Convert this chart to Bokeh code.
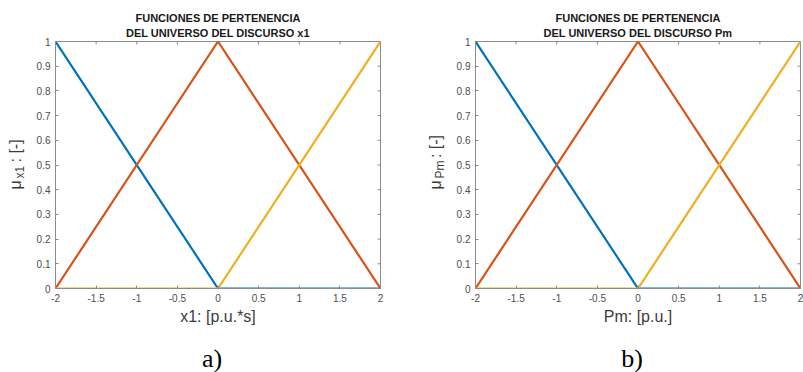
from math import pi
from bokeh.plotting import figure
from bokeh.layouts import row
from bokeh.models import Range1d, FixedTicker, LinearAxis, Label, Title
from bokeh.embed import file_html
from bokeh.resources import INLINE

# ---- data ----
x_points = [-2, 0, 2]
mf_negative = [1, 0, 0]
mf_zero = [0, 1, 0]
mf_positive = [0, 0, 1]
series = [mf_negative, mf_zero, mf_positive]
series_colors = ["#0072BD", "#D95319", "#EDB120"]

x_ticks = [-2, -1.5, -1, -0.5, 0, 0.5, 1, 1.5, 2]
x_tick_labels = ["-2", "-1.5", "-1", "-0.5", "0", "0.5", "1", "1.5", "2"]
y_ticks = [0, 0.1, 0.2, 0.3, 0.4, 0.5, 0.6, 0.7, 0.8, 0.9, 1]
y_tick_labels = ["0", "0.1", "0.2", "0.3", "0.4", "0.5", "0.6", "0.7", "0.8", "0.9", "1"]

NB = "\u00a0"
title_line1 = "FUNCIONES DE PERTENENCIA"
title_line2 = ["DEL UNIVERSO DEL DISCURSO x1", "DEL UNIVERSO DEL DISCURSO Pm"]
x_axis_labels = ["x1: [p.u.*s]", "Pm: [p.u.]"]
y_label_main = ["\u03bc" + NB * 4 + ":" + NB + "[-]", "\u03bc" + NB * 5 + ":" + NB + "[-]"]
y_label_subs = ["x1", "Pm"]
panel_tags = ["a)", "b)"]

FONT = "Liberation Sans"
AX_COL = "#8c8c8c"
TXT_COL = "#4d4d4d"
LBL_COL = "#3c3c3c"

H = 372
FRAME_W = 325
FRAME_H = 247
TOP = 41
LEFT = 55


def make_panel(i, width):
    right = width - LEFT - FRAME_W
    p = figure(width=width, height=H, output_backend="svg", toolbar_location=None,
               x_range=Range1d(x_ticks[0], x_ticks[-1]), y_range=Range1d(y_ticks[0], y_ticks[-1]),
               min_border_left=LEFT, min_border_right=right,
               min_border_top=TOP, min_border_bottom=H - TOP - FRAME_H,
               x_axis_location=None, y_axis_location=None)
    p.grid.visible = False
    p.outline_line_color = AX_COL
    p.background_fill_color = "white"
    p.border_fill_color = "white"

    xo = {t: l for t, l in zip(x_ticks, x_tick_labels)}
    yo = {t: l for t, l in zip(y_ticks, y_tick_labels)}

    def axis(ticks, overrides):
        ax = LinearAxis(ticker=FixedTicker(ticks=ticks), major_label_overrides=overrides)
        ax.axis_line_color = AX_COL
        ax.major_tick_line_color = AX_COL
        ax.major_tick_in = 3
        ax.major_tick_out = 0
        ax.minor_tick_line_color = None
        ax.major_label_text_font = FONT
        ax.major_label_text_color = TXT_COL
        ax.major_label_text_font_size = "10px"
        ax.major_label_standoff = 5
        return ax

    xb = axis(x_ticks, xo)
    xb.axis_label = x_axis_labels[i]
    xb.axis_label_text_font = FONT
    xb.axis_label_text_font_size = "16px"
    xb.axis_label_text_font_style = "normal"
    xb.axis_label_text_color = LBL_COL
    xb.axis_label_standoff = 3
    p.add_layout(xb, "below")
    p.add_layout(axis(y_ticks, yo), "left")

    # inward ticks on the top and right edges of the box
    p.scatter(x_ticks, [y_ticks[-1]] * len(x_ticks), marker="dash", angle=pi / 2,
              size=6, line_color=AX_COL, line_width=1)
    p.scatter([x_ticks[-1]] * len(y_ticks), y_ticks, marker="dash",
              size=6, line_color=AX_COL, line_width=1)

    for ys, c in zip(series, series_colors):
        p.line(x_points, ys, line_color=c, line_width=2.2)

    # two-line title
    p.add_layout(Title(text=title_line2[i], align="center", vertical_align="top", standoff=2.4,
                       text_font=FONT, text_font_size="11px", text_font_style="bold",
                       text_color="#1a1a1a"), "above")
    p.add_layout(Title(text=title_line1, align="center", vertical_align="top", standoff=0,
                       text_font=FONT, text_font_size="11px", text_font_style="bold",
                       text_color="#1a1a1a"), "above")

    # y label:  mu_sub : [-]
    p.add_layout(Label(x=x_ticks[0], y=y_ticks[0], x_units="data", y_units="data",
                       x_offset=-40.5, y_offset=99, angle=pi / 2,
                       text=y_label_main[i], text_align="left", text_baseline="middle",
                       text_font=FONT, text_font_size="16px", text_color=LBL_COL), "left")
    p.add_layout(Label(x=x_ticks[0], y=y_ticks[0], x_units="data", y_units="data",
                       x_offset=-36, y_offset=110, angle=pi / 2,
                       text=y_label_subs[i], text_align="left", text_baseline="middle",
                       text_font=FONT, text_font_size="12px", text_color=LBL_COL), "left")

    # panel tag
    p.add_layout(Label(x=x_points[1], y=y_ticks[0], x_units="data", y_units="data",
                       x_offset=-6, y_offset=-70,
                       text=panel_tags[i], text_align="center", text_baseline="middle",
                       text_font="Liberation Serif", text_font_size="26px", text_color="#000000"),
                 "below")
    return p


p1 = make_panel(0, 420)
p2 = make_panel(1, 383)
layout = row(p1, p2)

open("out.html", "w").write(file_html(layout, INLINE))
